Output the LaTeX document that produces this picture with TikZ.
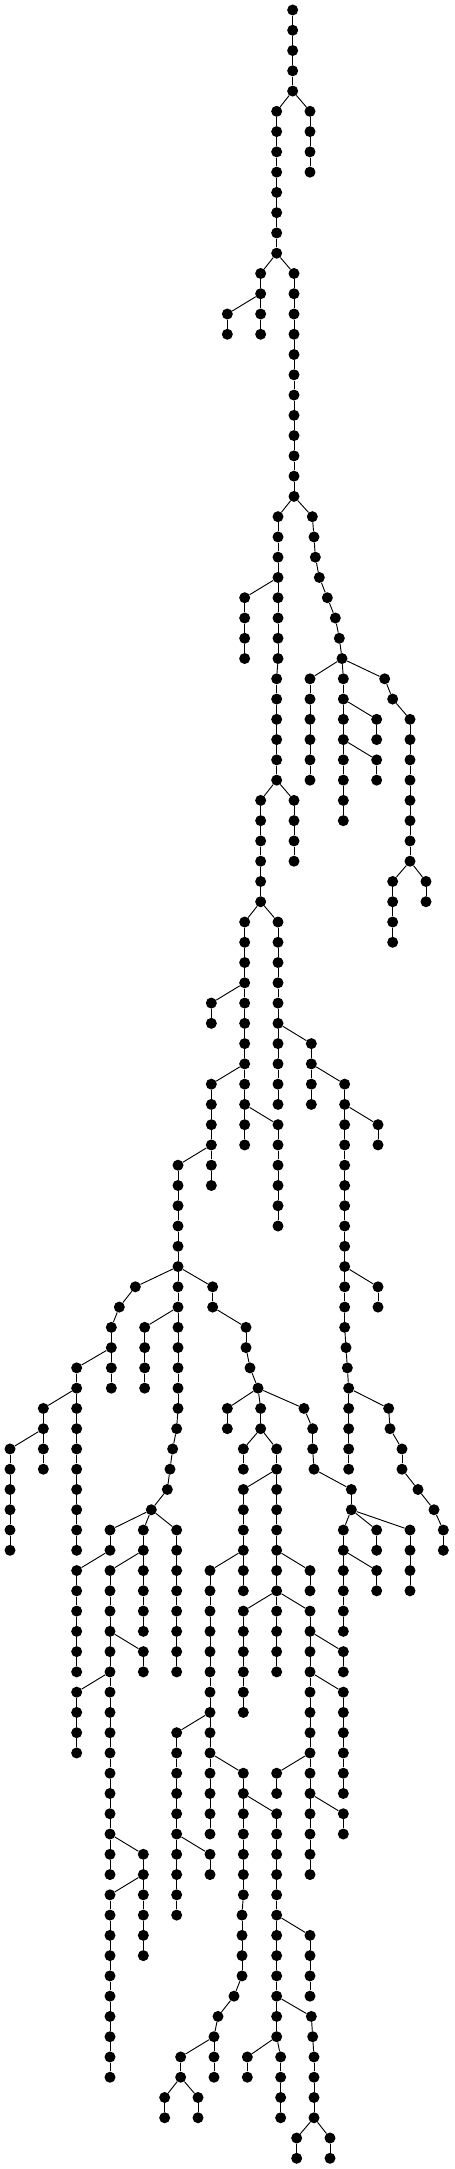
\documentclass[tikz,border=0pt]{standalone}
\newcommand\lev{0.608}
% a straight run of vertices: name, x, first level, last level
\newcommand\vchain[4]{%
  \foreach \lv in {#3,...,#4}{%
    \node[vtx] (#1-\lv) at (#2,-\lv*\lev) {};
    \ifnum\lv>#3 \pgfmathtruncatemacro\prevl{\lv-1}\draw[link] (#1-\prevl) -- (#1-\lv);\fi}}
% a run whose x shifts: name, first level, x of each vertex
\newcommand\schain[3]{%
  \foreach \xx [count=\lv from #2] in {#3}{%
    \node[vtx] (#1-\lv) at (\xx,-\lv*\lev) {};
    \ifnum\lv>#2 \pgfmathtruncatemacro\prevl{\lv-1}\draw[link] (#1-\prevl) -- (#1-\lv);\fi}}
\begin{document}
\begin{tikzpicture}[vtx/.style={circle,fill=black,inner sep=0pt,minimum size=3.3mm},
  link/.style={line width=0.8pt}]
\useasboundingbox (-0.3,0.3) rectangle (13.32,-64.77);
% upper part
\vchain{r}{8.48}{0}{4}
\vchain{a}{9}{5}{8}
\vchain{b}{8}{5}{12}
\vchain{c}{7.52}{13}{14}
\vchain{ca}{6.52}{15}{16}
\vchain{cb}{7.52}{15}{16}
\vchain{d}{8.52}{13}{24}
\vchain{e}{8.04}{25}{32}
\vchain{f}{7.04}{29}{32}
\vchain{g}{8}{33}{38}
\vchain{h}{7.52}{39}{44}
\vchain{i}{8.52}{39}{42}
\schain{s}{25}{9.07,9.12,9.16,9.28,9.52,9.76,9.88,9.96}
\vchain{j}{9}{33}{38}
\vchain{k}{10}{33}{40}
\vchain{ka}{11}{35}{36}
\vchain{kb}{11}{37}{38}
\schain{m}{33}{11.24,11.48,12,12,12,12,12,12,12,12}
\vchain{ma}{11.48}{43}{46}
\vchain{mb}{12.48}{43}{44}
% middle part
\vchain{n}{7.04}{45}{52}
\vchain{na}{6.04}{49}{50}
\vchain{o}{8.04}{45}{54}
\vchain{p}{9.04}{51}{54}
\schain{q}{53}{10.04,10.04,10.04,10.04,10.04,10.04,10.04,10.04,10.04,10.04,10.04,10.04,10.04,10.08,10.12,10.16,10.16,10.16,10.16,10.16}
\vchain{qa}{11.04}{55}{56}
\vchain{qb}{11.04}{63}{64}
\schain{u}{69}{11.36,11.4,11.76,11.76,12.24,12.72,13,13}
\vchain{v}{6.04}{53}{58}
\vchain{w}{7.04}{53}{56}
\vchain{wa}{8.04}{55}{60}
\schain{y}{57}{5.04,5.04,5.04,5.04,5.04,5.04,5.04,5.04,5.04,5.04,5.04,5.04,5.04,5,4.88,4.8,4.72,4.24}
\vchain{ya}{4.04}{65}{68}
\schain{za}{63}{3.76,3.28,3.04,3.04,3.04,3.04}
\schain{zc}{63}{6.08,6.08,7.08,7.08,7.2,7.44}
\vchain{zd}{6.52}{69}{70}
\vchain{ze}{7.52}{69}{70}
\schain{zf}{69}{8.82,9.08,9.08,9.12,10.24,10.24}
\vchain{aa}{2}{67}{76}
\vchain{ab}{1}{69}{72}
\vchain{ac}{0}{71}{76}
% lower part
\vchain{ad}{3}{75}{76}
\vchain{ae}{4}{75}{80}
\vchain{af}{5}{75}{82}
\vchain{ag}{2}{77}{82}
\vchain{ah}{3}{77}{92}
\vchain{ai}{4}{81}{82}
\vchain{aj}{2}{83}{86}
\vchain{ak}{4}{91}{96}
\vchain{al}{3}{93}{102}
\vchain{am}{7}{71}{72}
\vchain{an}{8}{71}{82}
\vchain{ao}{7}{73}{78}
\vchain{ap}{6}{77}{90}
\vchain{aq}{9}{77}{78}
\vchain{ar}{7}{79}{84}
\vchain{as}{9}{79}{92}
\vchain{at}{10}{81}{82}
\vchain{au}{10}{83}{88}
\vchain{av}{8}{87}{88}
\vchain{aw}{10}{89}{90}
\vchain{ax}{5}{85}{94}
\vchain{ay}{6}{91}{92}
\schain{az}{87}{7,7,7,7,7,7,7,6.96,6.96,6.96,6.96,6.72,6.24,6.12}
\vchain{ba}{8}{89}{100}
\vchain{bb}{5.12}{101}{102}
\vchain{bc}{6.12}{101}{102}
\vchain{bd}{4.64}{103}{104}
\vchain{be}{5.64}{103}{104}
\vchain{bf}{9}{95}{98}
\schain{bg}{99}{9.04,9.08,9.12,9.12,9.12,9.12}
\vchain{bh}{8.6}{105}{106}
\vchain{bi}{9.6}{105}{106}
\vchain{bj}{7.12}{101}{102}
\vchain{bk}{8.12}{101}{104}
\vchain{bl}{10}{75}{80}
\vchain{bm}{11}{75}{76}
\vchain{bn}{12}{75}{78}
\vchain{bo}{11}{77}{78}
% branch links
\draw[link] (r-4) -- (a-5); \draw[link] (r-4) -- (b-5);
\draw[link] (b-12) -- (c-13); \draw[link] (b-12) -- (d-13);
\draw[link] (c-14) -- (ca-15); \draw[link] (c-14) -- (cb-15);
\draw[link] (d-24) -- (e-25); \draw[link] (d-24) -- (s-25);
\draw[link] (e-28) -- (f-29); \draw[link] (e-32) -- (g-33);
\draw[link] (g-38) -- (h-39); \draw[link] (g-38) -- (i-39);
\draw[link] (s-32) -- (j-33); \draw[link] (s-32) -- (k-33); \draw[link] (s-32) -- (m-33);
\draw[link] (k-34) -- (ka-35); \draw[link] (k-36) -- (kb-37);
\draw[link] (m-42) -- (ma-43); \draw[link] (m-42) -- (mb-43);
\draw[link] (h-44) -- (n-45); \draw[link] (h-44) -- (o-45);
\draw[link] (n-48) -- (na-49);
\draw[link] (n-52) -- (v-53); \draw[link] (n-52) -- (w-53);
\draw[link] (o-50) -- (p-51); \draw[link] (p-52) -- (q-53);
\draw[link] (q-54) -- (qa-55); \draw[link] (q-62) -- (qb-63);
\draw[link] (q-68) -- (u-69);
\draw[link] (w-54) -- (wa-55); \draw[link] (v-56) -- (y-57);
\draw[link] (y-62) -- (za-63); \draw[link] (y-62) -- (zc-63);
\draw[link] (y-64) -- (ya-65);
\draw[link] (za-66) -- (aa-67); \draw[link] (aa-68) -- (ab-69); \draw[link] (ab-70) -- (ac-71);
\draw[link] (y-74) -- (ad-75); \draw[link] (y-74) -- (ae-75); \draw[link] (y-74) -- (af-75);
\draw[link] (zc-68) -- (zd-69); \draw[link] (zc-68) -- (ze-69); \draw[link] (zc-68) -- (zf-69);
\draw[link] (ze-70) -- (am-71); \draw[link] (ze-70) -- (an-71);
\draw[link] (an-72) -- (ao-73); \draw[link] (ao-76) -- (ap-77);
\draw[link] (an-76) -- (aq-77);
\draw[link] (an-78) -- (ar-79); \draw[link] (an-78) -- (as-79);
\draw[link] (ad-76) -- (ag-77); \draw[link] (ae-76) -- (ah-77);
\draw[link] (ah-80) -- (ai-81); \draw[link] (ah-82) -- (aj-83);
\draw[link] (ah-90) -- (ak-91); \draw[link] (ak-92) -- (al-93);
\draw[link] (ap-84) -- (ax-85); \draw[link] (ax-90) -- (ay-91);
\draw[link] (ap-86) -- (az-87); \draw[link] (az-88) -- (ba-89);
\draw[link] (az-100) -- (bb-101); \draw[link] (az-100) -- (bc-101);
\draw[link] (bb-102) -- (bd-103); \draw[link] (bb-102) -- (be-103);
\draw[link] (ba-94) -- (bf-95); \draw[link] (ba-98) -- (bg-99);
\draw[link] (bg-104) -- (bh-105); \draw[link] (bg-104) -- (bi-105);
\draw[link] (ba-100) -- (bj-101); \draw[link] (ba-100) -- (bk-101);
\draw[link] (as-80) -- (at-81); \draw[link] (as-82) -- (au-83);
\draw[link] (as-86) -- (av-87); \draw[link] (as-88) -- (aw-89);
\draw[link] (zf-74) -- (bl-75); \draw[link] (zf-74) -- (bm-75); \draw[link] (zf-74) -- (bn-75);
\draw[link] (bl-76) -- (bo-77);
\end{tikzpicture}
\end{document}
